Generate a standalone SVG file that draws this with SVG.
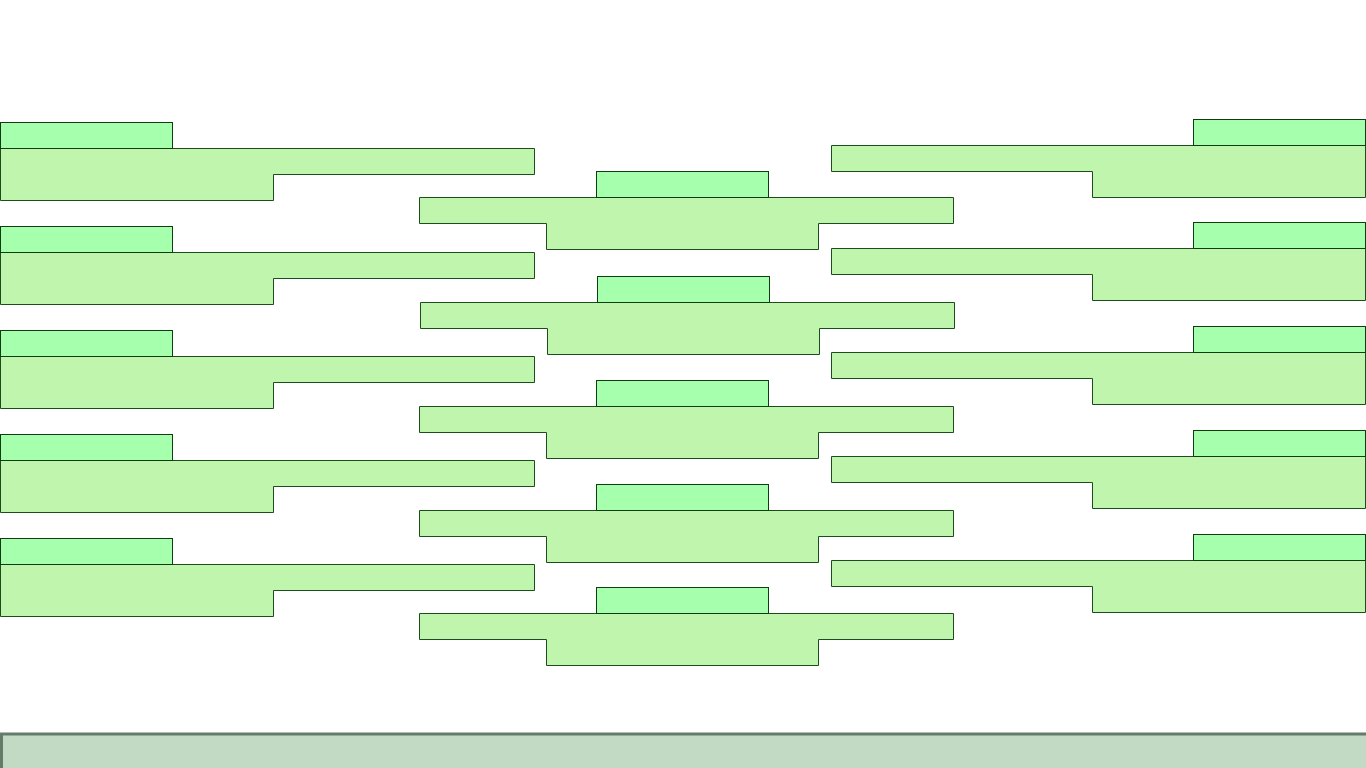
<svg xmlns="http://www.w3.org/2000/svg" width="1366" height="768" viewBox="0 0 1366 768">
<style>
.tab{fill:#a6ffad;stroke:#0f3d12;stroke-width:1}
.body{fill:#c0f5ad;stroke:#1c4d1c;stroke-width:1}
.bar{fill:#c2d9c3;stroke:#647d6a;stroke-width:3}
</style>
<rect width="1366" height="768" fill="#ffffff"/>
<g id="left-1"><path class="body" d="M0.5,148.5 H534.5 V174.5 H273.5 V200.5 H0.5 Z"/><rect class="tab" x="0.5" y="122.5" width="172" height="26"/></g>
<g id="left-2"><path class="body" d="M0.5,252.5 H534.5 V278.5 H273.5 V304.5 H0.5 Z"/><rect class="tab" x="0.5" y="226.5" width="172" height="26"/></g>
<g id="left-3"><path class="body" d="M0.5,356.5 H534.5 V382.5 H273.5 V408.5 H0.5 Z"/><rect class="tab" x="0.5" y="330.5" width="172" height="26"/></g>
<g id="left-4"><path class="body" d="M0.5,460.5 H534.5 V486.5 H273.5 V512.5 H0.5 Z"/><rect class="tab" x="0.5" y="434.5" width="172" height="26"/></g>
<g id="left-5"><path class="body" d="M0.5,564.5 H534.5 V590.5 H273.5 V616.5 H0.5 Z"/><rect class="tab" x="0.5" y="538.5" width="172" height="26"/></g>
<g id="mid-1"><path class="body" d="M419.5,197.5 H953.5 V223.5 H818.5 V249.5 H546.5 V223.5 H419.5 Z"/><rect class="tab" x="596.5" y="171.5" width="172" height="26"/></g>
<g id="mid-2"><path class="body" d="M420.5,302.5 H954.5 V328.5 H819.5 V354.5 H547.5 V328.5 H420.5 Z"/><rect class="tab" x="597.5" y="276.5" width="172" height="26"/></g>
<g id="mid-3"><path class="body" d="M419.5,406.5 H953.5 V432.5 H818.5 V458.5 H546.5 V432.5 H419.5 Z"/><rect class="tab" x="596.5" y="380.5" width="172" height="26"/></g>
<g id="mid-4"><path class="body" d="M419.5,510.5 H953.5 V536.5 H818.5 V562.5 H546.5 V536.5 H419.5 Z"/><rect class="tab" x="596.5" y="484.5" width="172" height="26"/></g>
<g id="mid-5"><path class="body" d="M419.5,613.5 H953.5 V639.5 H818.5 V665.5 H546.5 V639.5 H419.5 Z"/><rect class="tab" x="596.5" y="587.5" width="172" height="26"/></g>
<g id="right-1"><path class="body" d="M831.5,145.5 H1365.5 V197.5 H1092.5 V171.5 H831.5 Z"/><rect class="tab" x="1193.5" y="119.5" width="172" height="26"/></g>
<g id="right-2"><path class="body" d="M831.5,248.5 H1365.5 V300.5 H1092.5 V274.5 H831.5 Z"/><rect class="tab" x="1193.5" y="222.5" width="172" height="26"/></g>
<g id="right-3"><path class="body" d="M831.5,352.5 H1365.5 V404.5 H1092.5 V378.5 H831.5 Z"/><rect class="tab" x="1193.5" y="326.5" width="172" height="26"/></g>
<g id="right-4"><path class="body" d="M831.5,456.5 H1365.5 V508.5 H1092.5 V482.5 H831.5 Z"/><rect class="tab" x="1193.5" y="430.5" width="172" height="26"/></g>
<g id="right-5"><path class="body" d="M831.5,560.5 H1365.5 V612.5 H1092.5 V586.5 H831.5 Z"/><rect class="tab" x="1193.5" y="534.5" width="172" height="26"/></g>
<g id="bottom-bar"><rect class="bar" x="1.5" y="734" width="1370" height="40"/></g>
<g id="connectors"></g>
</svg>
